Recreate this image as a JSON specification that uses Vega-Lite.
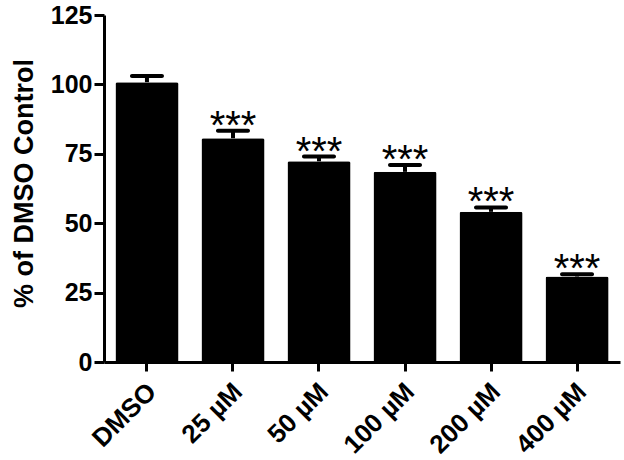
{
  "$schema": "https://vega.github.io/schema/vega-lite/v6.json",
  "width": 516,
  "height": 347,
  "autosize": {"type": "none"},
  "padding": {"left": 104, "top": 15, "right": 4, "bottom": 98},
  "background": "white",
  "config": {"view": {"stroke": null}, "font": "Liberation Sans"},
  "data": {"values": [
    {"group": "DMSO", "mean": 100.8, "upper": 103.0, "sig": ""},
    {"group": "25 µM", "mean": 80.6, "upper": 83.3, "sig": "***"},
    {"group": "50 µM", "mean": 72.3, "upper": 74.0, "sig": "***"},
    {"group": "100 µM", "mean": 68.5, "upper": 71.0, "sig": "***"},
    {"group": "200 µM", "mean": 54.1, "upper": 55.7, "sig": "***"},
    {"group": "400 µM", "mean": 30.8, "upper": 31.6, "sig": "***"}
  ]},
  "encoding": {
    "x": {
      "field": "group", "type": "nominal", "sort": null,
      "scale": {"paddingInner": 0.267, "paddingOuter": 0.133},
      "axis": {
        "title": null, "labelAngle": -45, "labelFontSize": 26, "labelFontWeight": "bold",
        "labelColor": "black", "labelPadding": 7, "labelOffset": -4, "domainColor": "black", "domainWidth": 3,
        "tickColor": "black", "tickWidth": 3, "tickSize": 9
      }
    }
  },
  "layer": [
    {
      "mark": {"type": "bar", "color": "black", "cornerRadiusEnd": 2},
      "encoding": {
        "y": {
          "field": "mean", "type": "quantitative", "title": "% of DMSO Control",
          "scale": {"domain": [0, 125], "nice": false},
          "axis": {
            "titleFontSize": 27, "titleFontWeight": "bold",
            "titleColor": "black", "titleX": -72, "titleY": 168, "titleBaseline": "alphabetic",
            "values": [0, 25, 50, 75, 100, 125], "labelFontSize": 25, "labelFontWeight": "bold",
            "labelColor": "black", "labelPadding": 2, "grid": false,
            "domainColor": "black", "domainWidth": 3, "tickColor": "black", "tickWidth": 3, "tickSize": 10
          }
        }
      }
    },
    {
      "mark": {"type": "rule", "color": "black", "strokeWidth": 4},
      "encoding": {
        "y": {"field": "mean", "type": "quantitative", "title": "% of DMSO Control"},
        "y2": {"field": "upper"}
      }
    },
    {
      "mark": {"type": "tick", "color": "black", "opacity": 1, "size": 34, "thickness": 4, "cornerRadius": 2},
      "encoding": {
        "y": {"field": "upper", "type": "quantitative", "title": "% of DMSO Control"}
      }
    },
    {
      "mark": {"type": "text", "fontSize": 40, "dy": 8, "baseline": "alphabetic", "color": "black"},
      "encoding": {
        "y": {"field": "upper", "type": "quantitative", "title": "% of DMSO Control"},
        "text": {"field": "sig"}
      }
    }
  ]
}
